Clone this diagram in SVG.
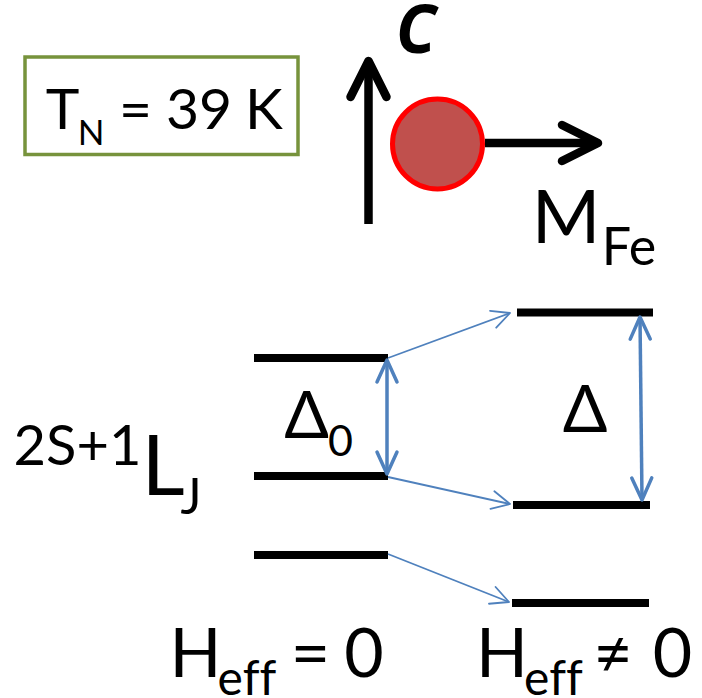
<svg xmlns="http://www.w3.org/2000/svg" width="702" height="698" viewBox="0 0 702 698">
<style>
  .t { font-family: Lato, "Open Sans", "Noto Sans", "DejaVu Sans", sans-serif; fill: #000; text-anchor: middle; font-variant-ligatures: none; font-feature-settings: "liga" 0; }
  .ax { font-family: "Open Sans", "Noto Sans", "DejaVu Sans", sans-serif; font-style: italic; font-weight: bold; fill: #000; text-anchor: middle; }
  .lvl { stroke: #000; stroke-width: 8; }
  .thin { stroke: #4F81BD; stroke-width: 1.8; fill: none; }
  .dbl { stroke: #4F81BD; stroke-width: 3.5; fill: none; }
  .blk { stroke: #000; stroke-width: 8.5; fill: none; }
</style>
<defs>
  <marker id="openThin" markerUnits="userSpaceOnUse" viewBox="-24 -14 28 28" markerWidth="28" markerHeight="28" refX="0" refY="0" orient="auto">
    <path d="M-18,-9 L0,0 L-18,9" fill="none" stroke="#4F81BD" stroke-width="1.8" stroke-linecap="round" stroke-linejoin="round"/>
  </marker>
  <marker id="openThick" markerUnits="userSpaceOnUse" viewBox="-28 -16 32 32" markerWidth="32" markerHeight="32" refX="0" refY="0" orient="auto-start-reverse">
    <path d="M-22,-10 L0,0 L-22,10" fill="none" stroke="#4F81BD" stroke-width="3.5" stroke-linecap="round" stroke-linejoin="round"/>
  </marker>
  <marker id="openBlack" markerUnits="userSpaceOnUse" viewBox="-44 -26 52 52" markerWidth="52" markerHeight="52" refX="0" refY="0" orient="auto">
    <path d="M-36,-18 L0,0 L-36,18" fill="none" stroke="#000" stroke-width="8.5" stroke-linecap="round" stroke-linejoin="round"/>
  </marker>
</defs>
<rect width="702" height="698" fill="#fff"/>

<g id="tn-box">
  <rect x="25" y="57" width="273" height="97.5" fill="none" stroke="#77933C" stroke-width="3.5"/>
  <text class="t" x="62.5" y="129" font-size="57">T</text>
  <text class="t" x="91" y="145" font-size="35">N</text>
  <text class="t" x="135.5" y="129" font-size="57">=</text>
  <text class="t" x="199" y="129" font-size="57">39</text>
  <text class="t" x="264" y="129" font-size="57">K</text>
</g>

<g id="c-axis">
  <line class="blk" x1="368.5" y1="224" x2="368.5" y2="61" marker-end="url(#openBlack)"/>
  <text class="ax" x="416" y="53" font-size="66">C</text>
</g>

<g id="fe-atom">
  <circle cx="437.5" cy="144" r="45" fill="#C0504D" stroke="#FF0000" stroke-width="5"/>
  <line class="blk" x1="485" y1="143" x2="598" y2="143" marker-end="url(#openBlack)"/>
  <text class="t" x="566" y="243" font-size="74">M</text>
  <text class="t" x="629" y="265" font-size="52">Fe</text>
</g>

<g id="term-label">
  <text class="t" x="77.5" y="465" font-size="56">2S+1</text>
  <text class="t" x="163" y="495" font-size="84">L</text>
  <text class="t" x="191" y="514" font-size="50">J</text>
</g>

<g id="levels-left">
  <line class="lvl" x1="254" y1="358" x2="388" y2="358"/>
  <line class="lvl" x1="254" y1="476" x2="388" y2="476"/>
  <line class="lvl" x1="254" y1="555" x2="388" y2="555"/>
  <text class="t" x="306.5" y="438" font-size="66">Δ</text>
  <text class="t" x="340.5" y="456" font-size="43">0</text>
</g>

<g id="levels-right">
  <line class="lvl" x1="517" y1="312.5" x2="653" y2="312.5"/>
  <line class="lvl" x1="513" y1="505" x2="650" y2="505"/>
  <line class="lvl" x1="512" y1="603" x2="649" y2="603"/>
  <text class="t" x="585" y="432" font-size="66">Δ</text>
</g>

<g id="label-h0">
  <text class="t" x="195.5" y="677" font-size="68">H</text>
  <text class="t" x="247" y="695" font-size="48">eff</text>
  <text class="t" x="310.5" y="677" font-size="68">=</text>
  <text class="t" x="364" y="677" font-size="68">0</text>
</g>

<g id="label-hne0">
  <text class="t" x="502" y="677" font-size="68">H</text>
  <text class="t" x="553.5" y="695" font-size="48">eff</text>
  <text class="t" x="613" y="677" font-size="68">≠</text>
  <text class="t" x="672.5" y="677" font-size="68">0</text>
</g>

<g id="connectors">
  <line class="thin" x1="388" y1="358" x2="510" y2="313" marker-end="url(#openThin)"/>
  <line class="thin" x1="388" y1="477" x2="510" y2="504" marker-end="url(#openThin)"/>
  <line class="thin" x1="388" y1="554" x2="509" y2="602" marker-end="url(#openThin)"/>
  <line class="dbl" x1="387" y1="360" x2="387" y2="474" marker-start="url(#openThick)" marker-end="url(#openThick)"/>
  <line class="dbl" x1="640" y1="317" x2="642" y2="500" marker-start="url(#openThick)" marker-end="url(#openThick)"/>
</g>
</svg>
